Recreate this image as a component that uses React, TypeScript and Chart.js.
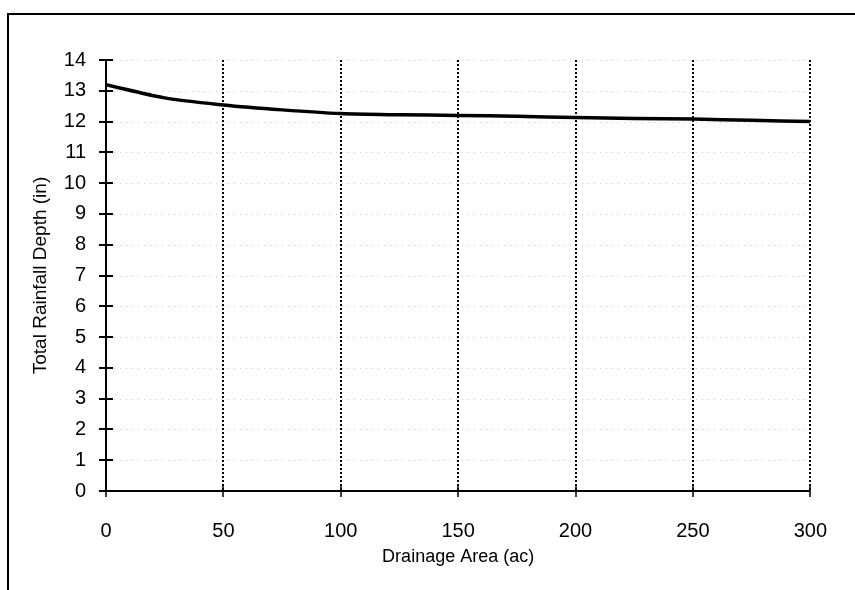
import React, { useEffect, useRef } from "react";
import { Chart, registerables } from "chart.js";

Chart.register(...registerables);

const drainageArea: number[] = [0, 25, 50, 75, 100, 125, 150, 175, 200, 225, 250, 275, 300];
const rainfallDepth: number[] = [13.2, 12.77, 12.54, 12.38, 12.26, 12.22, 12.2, 12.17, 12.13, 12.1, 12.08, 12.04, 12.0];
const xTicks: number[] = [0, 50, 100, 150, 200, 250, 300];
const yTicks: number[] = [0, 1, 2, 3, 4, 5, 6, 7, 8, 9, 10, 11, 12, 13, 14];
const xTitle = "Drainage Area (ac)";
const yTitle = "Total Rainfall Depth (in)";

const FONT = "'Liberation Sans', Arial, sans-serif";

const decorPlugin = {
  id: "decor",
  beforeDatasetsDraw(chart: any) {
    const ctx = chart.ctx;
    const xs = chart.scales.x;
    const ys = chart.scales.y;
    const top = ys.getPixelForValue(14);
    const bottom = ys.getPixelForValue(0);
    const left = xs.getPixelForValue(0);
    const right = xs.getPixelForValue(300);
    ctx.save();
    // outer frame (left and top edges)
    ctx.strokeStyle = "#000";
    ctx.lineWidth = 2;
    ctx.setLineDash([]);
    ctx.beginPath();
    ctx.moveTo(8, 590);
    ctx.lineTo(8, 14);
    ctx.lineTo(855, 14);
    ctx.stroke();

    // faint horizontal grid
    ctx.strokeStyle = "rgba(0,0,0,0.22)";
    ctx.lineWidth = 1;
    ctx.setLineDash([1, 5]);
    yTicks.forEach((v) => {
      if (v === 0) return;
      const y = Math.round(ys.getPixelForValue(v)) + 0.5;
      ctx.beginPath();
      ctx.moveTo(left + 8, y);
      ctx.lineTo(right, y);
      ctx.stroke();
    });

    // dotted vertical grid
    ctx.strokeStyle = "#000";
    ctx.lineWidth = 2;
    ctx.setLineDash([2, 2]);
    xTicks.forEach((v) => {
      if (v === 0) return;
      const x = Math.round(xs.getPixelForValue(v));
      ctx.beginPath();
      ctx.moveTo(x, top);
      ctx.lineTo(x, bottom);
      ctx.stroke();
    });

    // axes
    ctx.setLineDash([]);
    ctx.lineWidth = 2;
    ctx.beginPath();
    ctx.moveTo(left, top);
    ctx.lineTo(left, bottom);
    ctx.moveTo(left, bottom);
    ctx.lineTo(right, bottom);
    ctx.stroke();

    // y tick marks (crossing)
    ctx.lineWidth = 2;
    yTicks.forEach((v) => {
      const y = Math.round(ys.getPixelForValue(v));
      ctx.beginPath();
      ctx.moveTo(left - 7, y);
      ctx.lineTo(left + 7, y);
      ctx.stroke();
    });
    // x tick marks (crossing)
    ctx.lineWidth = 1.5;
    xTicks.forEach((v) => {
      const x = Math.round(xs.getPixelForValue(v));
      ctx.beginPath();
      ctx.moveTo(x, bottom - 5);
      ctx.lineTo(x, bottom + 6);
      ctx.stroke();
    });
    ctx.restore();
  },
};

export default function App() {
  const ref = useRef<HTMLCanvasElement | null>(null);
  useEffect(() => {
    if (!ref.current) return;
    const chart = new Chart(ref.current, {
      type: "line",
      data: {
        datasets: [
          {
            data: drainageArea.map((x, i) => ({ x, y: rainfallDepth[i] })),
            borderColor: "#000",
            borderWidth: 3.5,
            pointRadius: 0,
            tension: 0.3,
            fill: false,
          },
        ],
      },
      options: {
        animation: false,
        responsive: false,
        events: [],
        layout: { padding: { left: 29, top: 60, right: 35, bottom: 22 } },
        plugins: { legend: { display: false }, tooltip: { enabled: false } },
        scales: {
          x: {
            type: "linear",
            min: 0,
            max: 300,
            afterBuildTicks: (s: any) => {
              s.ticks = xTicks.map((v) => ({ value: v }));
            },
            afterFit: (s: any) => {
              s.height = 77;
            },
            grid: { display: false, drawTicks: false },
            border: { display: false },
            ticks: {
              padding: 28,
              color: "#000",
              font: { family: FONT, size: 20 },
              maxRotation: 0,
            },
            title: {
              display: true,
              text: xTitle,
              color: "#000",
              font: { family: FONT, size: 18 },
              padding: 0,
            },
          },
          y: {
            type: "linear",
            min: 0,
            max: 14,
            afterBuildTicks: (s: any) => {
              s.ticks = yTicks.map((v) => ({ value: v }));
            },
            afterFit: (s: any) => {
              s.width = 77;
            },
            grid: { display: false, drawTicks: false },
            border: { display: false },
            ticks: {
              padding: 20,
              color: "#000",
              font: { family: FONT, size: 20 },
            },
            title: {
              display: true,
              text: yTitle,
              color: "#000",
              font: { family: FONT, size: 19 },
              padding: 0,
            },
          },
        },
      },
      plugins: [decorPlugin],
    } as any);
    return () => chart.destroy();
  }, []);
  return (
    <div style={{ position: "absolute", left: 0, top: 0, width: 855, height: 590, background: "#fff" }}>
      <canvas ref={ref} width={855} height={590} style={{ width: 855, height: 590, display: "block" }} />
    </div>
  );
}
